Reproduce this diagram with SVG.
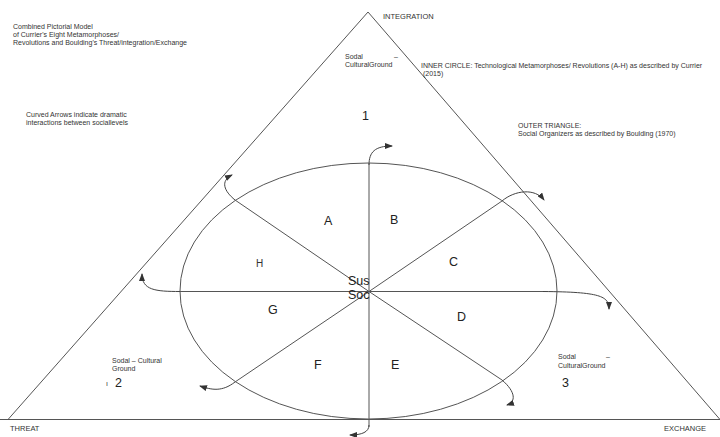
<svg xmlns="http://www.w3.org/2000/svg" width="720" height="437" viewBox="0 0 720 437">
<style>
.t{font-family:"Liberation Sans",Arial,sans-serif;fill:#333}
.s{font-size:7px}
.m{font-size:7.5px}
.l{font-size:12.5px;fill:#222}
.ln{fill:none;stroke:#555;stroke-width:1}
.ar{fill:none;stroke:#444;stroke-width:1;marker-end:url(#ah)}
</style>
<defs>
<marker id="ah" markerWidth="8" markerHeight="6" refX="7" refY="3" orient="auto" markerUnits="userSpaceOnUse">
<path d="M0,0 L8,3 L0,6 Z" fill="#333"/>
</marker>
</defs>
<rect width="720" height="437" fill="#fff"/>
<g id="triangle">
<path class="ln" d="M368,12 L8,419.5 M368,12 L720,419.5 M0,419.5 L720,419.5" stroke="#666"/>
</g>
<g id="circle">
<ellipse class="ln" cx="368.5" cy="291" rx="188.5" ry="128" stroke="#444"/>
</g>
<g id="connectors">
<line class="ln" x1="369" y1="163" x2="369" y2="427"/>
<line class="ln" x1="180" y1="291.5" x2="543" y2="291.5"/>
<line class="ln" x1="369" y1="291.5" x2="235" y2="200"/>
<line class="ln" x1="369" y1="291.5" x2="502" y2="201"/>
<line class="ln" x1="369" y1="291.5" x2="235" y2="382"/>
<line class="ln" x1="369" y1="291.5" x2="502" y2="380"/>
<path class="ar" d="M369,165 C369,152 375,146 392,146"/>
<path class="ar" d="M369,425 C369,432 362,435 350,435"/>
<path class="ar" d="M235,200 C224,191 220,181 232,175"/>
<path class="ar" d="M502,201 C515,190 535,188 544,200"/>
<path class="ar" d="M180,291.5 C155,291.5 142,290 142,274"/>
<path class="ar" d="M543,291.5 C600,292 609,296 609,309"/>
<path class="ar" d="M235,382 C222,392 212,390 200,386"/>
<path class="ar" d="M502,380 C516,392 516,402 507,405"/>
</g>
<g id="labels">
<text class="t l" x="324" y="225">A</text>
<text class="t l" x="390" y="224">B</text>
<text class="t l" x="449" y="266">C</text>
<text class="t l" x="457" y="321">D</text>
<text class="t l" x="391" y="369">E</text>
<text class="t l" x="314" y="369">F</text>
<text class="t l" x="268" y="314">G</text>
<text class="t" x="256" y="267" font-size="10">H</text>
<text class="t l" x="348" y="285">Sus</text>
<text class="t l" x="348" y="299">Soc</text>
</g>
<g id="texts">
<text class="t s" x="13" y="29">Combined Pictorial Model</text>
<text class="t s" x="13" y="37">of Currier's Eight Metamorphoses/</text>
<text class="t s" x="13" y="45">Revolutions and Boulding's  Threat/integration/Exchange</text>
<text class="t s" x="26" y="117">Curved Arrows  indicate dramatic</text>
<text class="t s" x="26" y="125">interactions between sociallevels</text>
<text class="t m" x="383" y="19">INTEGRATION</text>
<text class="t s" x="345" y="59">Sodal</text>
<text class="t s" x="394" y="59">–</text>
<text class="t s" x="345" y="67">CulturalGround</text>
<text class="t s" x="421" y="68">INNER CIRCLE: Technological Metamorphoses/  Revolutions (A-H) as described by Currier</text>
<text class="t s" x="423" y="76">(2015)</text>
<text class="t l" x="362" y="120">1</text>
<text class="t s" x="518" y="128">OUTER TRIANGLE:</text>
<text class="t s" x="518" y="136">Social Organizers  as described  by Boulding (1970)</text>
<text class="t s" x="112" y="363">Sodal  – Cultural</text>
<text class="t s" x="112" y="371">Ground</text>
<text class="t s" x="106" y="386">ı</text>
<text class="t l" x="115" y="387">2</text>
<text class="t s" x="558" y="359">Sodal</text>
<text class="t s" x="606" y="359">–</text>
<text class="t s" x="558" y="368">CulturalGround</text>
<text class="t l" x="562" y="387">3</text>
<text class="t m" x="10" y="431">THREAT</text>
<text class="t m" x="664" y="431">EXCHANGE</text>
</g>
</svg>
